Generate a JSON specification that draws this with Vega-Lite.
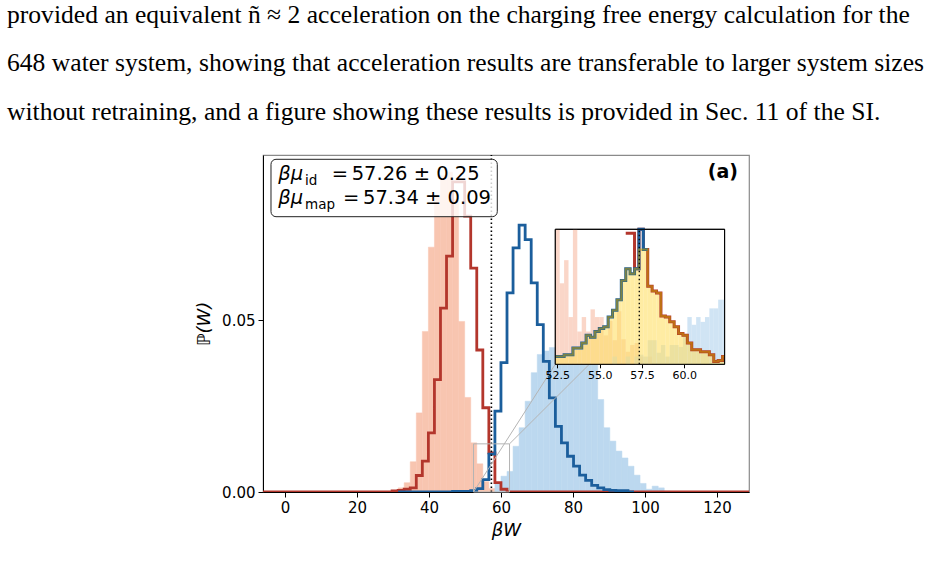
{
"$schema": "https://vega.github.io/schema/vega-lite/v6.json",
"width": 486, "height": 337,
"autosize": {"type": "none"},
"padding": {"left": 263, "top": 155, "right": 198, "bottom": 79},
"background": "white",
"config": {
  "view": {"stroke": "#8a8a8a", "strokeWidth": 1.2},
  "font": "DejaVu Sans",
  "axis": {"labelFont": "DejaVu Sans", "titleFont": "DejaVu Sans", "labelColor": "black", "titleColor": "black", "tickColor": "black", "domainColor": "black", "grid": false}
},
"title": {
  "text": ["provided an equivalent ñ ≈ 2 acceleration on the charging free energy calculation for the", "648 water system, showing that acceleration results are transferable to larger system sizes", "without retraining, and a figure showing these results is provided in Sec. 11 of the SI."],
  "anchor": "start", "frame": "group", "dx": -256, "offset": 29,
  "font": "Liberation Serif", "fontSize": 25.6, "fontWeight": "normal", "lineHeight": 48.5, "color": "black"
},
"datasets": {
  "one": [{}],
  "salmon": [
    {"x0": 29.76, "x1": 31.44, "p": 0.0004}, {"x0": 31.44, "x1": 33.12, "p": 0.0012}, {"x0": 33.12, "x1": 34.80, "p": 0.0027},
    {"x0": 34.80, "x1": 36.48, "p": 0.0088}, {"x0": 36.48, "x1": 38.16, "p": 0.023}, {"x0": 38.16, "x1": 39.84, "p": 0.0467},
    {"x0": 39.84, "x1": 41.52, "p": 0.0712}, {"x0": 41.52, "x1": 43.20, "p": 0.086}, {"x0": 43.20, "x1": 44.88, "p": 0.092},
    {"x0": 44.88, "x1": 46.56, "p": 0.093}, {"x0": 46.56, "x1": 48.24, "p": 0.085}, {"x0": 48.24, "x1": 49.92, "p": 0.0496},
    {"x0": 49.92, "x1": 51.60, "p": 0.0275}, {"x0": 51.60, "x1": 53.28, "p": 0.0143}, {"x0": 53.28, "x1": 54.96, "p": 0.0082},
    {"x0": 54.96, "x1": 56.64, "p": 0.003}, {"x0": 56.64, "x1": 58.32, "p": 0.001}
  ],
  "bluefill": [
    {"x0": 58.32, "x1": 60.00, "p": 0.0027}, {"x0": 60.00, "x1": 61.68, "p": 0.0046}, {"x0": 61.68, "x1": 63.36, "p": 0.006},
    {"x0": 63.36, "x1": 65.04, "p": 0.0133}, {"x0": 65.04, "x1": 66.72, "p": 0.0187}, {"x0": 66.72, "x1": 68.40, "p": 0.0264},
    {"x0": 68.40, "x1": 70.08, "p": 0.0347}, {"x0": 70.08, "x1": 71.76, "p": 0.040}, {"x0": 71.76, "x1": 73.44, "p": 0.041},
    {"x0": 73.44, "x1": 75.12, "p": 0.042}, {"x0": 75.12, "x1": 76.80, "p": 0.043}, {"x0": 76.80, "x1": 78.48, "p": 0.044},
    {"x0": 78.48, "x1": 80.16, "p": 0.044}, {"x0": 80.16, "x1": 81.84, "p": 0.043}, {"x0": 81.84, "x1": 83.52, "p": 0.042},
    {"x0": 83.52, "x1": 85.20, "p": 0.041}, {"x0": 85.20, "x1": 86.88, "p": 0.040}, {"x0": 86.88, "x1": 88.56, "p": 0.0269},
    {"x0": 88.56, "x1": 90.24, "p": 0.0187}, {"x0": 90.24, "x1": 91.92, "p": 0.0148}, {"x0": 91.92, "x1": 93.60, "p": 0.0119},
    {"x0": 93.60, "x1": 95.28, "p": 0.0099}, {"x0": 95.28, "x1": 96.96, "p": 0.0075}, {"x0": 96.96, "x1": 98.64, "p": 0.0049},
    {"x0": 98.64, "x1": 100.32, "p": 0.0025}, {"x0": 100.32, "x1": 102.00, "p": 0.0008}, {"x0": 102.00, "x1": 103.68, "p": 0.0017},
    {"x0": 103.68, "x1": 105.36, "p": 0.0012}, {"x0": 105.36, "x1": 107.04, "p": 0.0003}
  ],
  "redline": [
    {"x": -6.1, "p": 0}, {"x": 29.76, "p": 0.0003}, {"x": 31.44, "p": 0.0005}, {"x": 33.12, "p": 0.0008},
    {"x": 34.80, "p": 0.0012}, {"x": 36.48, "p": 0.0048}, {"x": 38.16, "p": 0.0090}, {"x": 39.84, "p": 0.0172},
    {"x": 41.52, "p": 0.0327}, {"x": 43.20, "p": 0.0535}, {"x": 44.88, "p": 0.0686}, {"x": 46.56, "p": 0.0902},
    {"x": 48.24, "p": 0.0902}, {"x": 49.92, "p": 0.0802}, {"x": 51.60, "p": 0.0651}, {"x": 53.28, "p": 0.0413},
    {"x": 54.96, "p": 0.0245}, {"x": 56.64, "p": 0.0114}, {"x": 58.32, "p": 0.0027}, {"x": 60.00, "p": 0.0008},
    {"x": 61.68, "p": 0}, {"x": 128.9, "p": 0}
  ],
  "blueline": [
    {"x": 31.44, "p": 0}, {"x": 46.56, "p": 0.0002}, {"x": 49.92, "p": 0.0002}, {"x": 51.60, "p": 0.0004},
    {"x": 53.28, "p": 0.0010}, {"x": 54.96, "p": 0.0036}, {"x": 56.64, "p": 0.0110}, {"x": 58.32, "p": 0.0235},
    {"x": 60.00, "p": 0.0376}, {"x": 61.68, "p": 0.0579}, {"x": 63.36, "p": 0.0710}, {"x": 65.04, "p": 0.0776},
    {"x": 66.72, "p": 0.0734}, {"x": 68.40, "p": 0.0608}, {"x": 70.08, "p": 0.0487}, {"x": 71.76, "p": 0.0380},
    {"x": 73.44, "p": 0.0274}, {"x": 75.12, "p": 0.0191}, {"x": 76.80, "p": 0.0143}, {"x": 78.48, "p": 0.0104},
    {"x": 80.16, "p": 0.0075}, {"x": 81.84, "p": 0.0049}, {"x": 83.52, "p": 0.0034}, {"x": 85.20, "p": 0.0019},
    {"x": 86.88, "p": 0.0012}, {"x": 88.56, "p": 0.0007}, {"x": 90.24, "p": 0.0005}, {"x": 91.92, "p": 0.0004},
    {"x": 93.60, "p": 0.0004}, {"x": 95.28, "p": 0}, {"x": 96.96, "p": 0}
  ],
  "ins_salmon": [
    {"x0": 52.38, "x1": 52.64, "p": 0.018}, {"x0": 52.64, "x1": 52.90, "p": 0.0084}, {"x0": 52.90, "x1": 53.16, "p": 0.0108},
    {"x0": 53.16, "x1": 53.42, "p": 0.0049}, {"x0": 53.42, "x1": 53.68, "p": 0.018}, {"x0": 53.68, "x1": 53.94, "p": 0.0034},
    {"x0": 53.94, "x1": 54.20, "p": 0.0049}, {"x0": 54.20, "x1": 54.46, "p": 0.0034}, {"x0": 54.46, "x1": 54.72, "p": 0.0057},
    {"x0": 54.72, "x1": 54.98, "p": 0.0049}, {"x0": 54.98, "x1": 55.24, "p": 0.0049}, {"x0": 55.24, "x1": 55.50, "p": 0.0030},
    {"x0": 55.50, "x1": 55.76, "p": 0.0045}, {"x0": 55.76, "x1": 56.02, "p": 0.0025}, {"x0": 56.02, "x1": 56.28, "p": 0.0055},
    {"x0": 56.28, "x1": 56.54, "p": 0.0026}, {"x0": 56.54, "x1": 56.80, "p": 0.0013}, {"x0": 56.80, "x1": 57.06, "p": 0.0020},
    {"x0": 57.06, "x1": 57.32, "p": 0.0022}, {"x0": 57.32, "x1": 57.58, "p": 0.0008}, {"x0": 57.84, "x1": 58.10, "p": 0.0008}
  ],
  "ins_blue": [
    {"x0": 55.76, "x1": 56.02, "p": 0.0008}, {"x0": 56.54, "x1": 56.80, "p": 0.0008}, {"x0": 57.06, "x1": 57.32, "p": 0.0008},
    {"x0": 57.32, "x1": 57.58, "p": 0.0010}, {"x0": 57.58, "x1": 57.84, "p": 0.0008}, {"x0": 57.84, "x1": 58.10, "p": 0.0025},
    {"x0": 58.10, "x1": 58.36, "p": 0.0025}, {"x0": 58.36, "x1": 58.62, "p": 0.0012}, {"x0": 58.62, "x1": 58.88, "p": 0.0020},
    {"x0": 58.88, "x1": 59.14, "p": 0.0008}, {"x0": 59.14, "x1": 59.40, "p": 0.0020}, {"x0": 59.40, "x1": 59.66, "p": 0.0020},
    {"x0": 59.66, "x1": 59.92, "p": 0.0018}, {"x0": 59.92, "x1": 60.18, "p": 0.0030}, {"x0": 60.18, "x1": 60.44, "p": 0.0049},
    {"x0": 60.44, "x1": 60.70, "p": 0.0041}, {"x0": 60.70, "x1": 60.96, "p": 0.0049}, {"x0": 60.96, "x1": 61.22, "p": 0.0044},
    {"x0": 61.22, "x1": 61.48, "p": 0.0049}, {"x0": 61.48, "x1": 61.74, "p": 0.0058}, {"x0": 61.74, "x1": 62.00, "p": 0.0058},
    {"x0": 62.00, "x1": 62.26, "p": 0.0067}, {"x0": 62.26, "x1": 62.52, "p": 0.0067}
  ],
  "ins_yellow": [
    {"x0": 52.38, "x1": 52.64, "p": 0.0008}, {"x0": 52.64, "x1": 52.90, "p": 0.0008}, {"x0": 52.90, "x1": 53.16, "p": 0.0010},
    {"x0": 53.16, "x1": 53.42, "p": 0.0010}, {"x0": 53.42, "x1": 53.68, "p": 0.0017}, {"x0": 53.68, "x1": 53.94, "p": 0.0017},
    {"x0": 53.94, "x1": 54.20, "p": 0.0022}, {"x0": 54.20, "x1": 54.46, "p": 0.0030}, {"x0": 54.46, "x1": 54.72, "p": 0.0028},
    {"x0": 54.72, "x1": 54.98, "p": 0.0034}, {"x0": 54.98, "x1": 55.24, "p": 0.0037}, {"x0": 55.24, "x1": 55.50, "p": 0.0039},
    {"x0": 55.50, "x1": 55.76, "p": 0.0049}, {"x0": 55.76, "x1": 56.02, "p": 0.0056}, {"x0": 56.02, "x1": 56.28, "p": 0.0067},
    {"x0": 56.28, "x1": 56.54, "p": 0.0087}, {"x0": 56.54, "x1": 56.80, "p": 0.0099}, {"x0": 56.80, "x1": 57.06, "p": 0.0094},
    {"x0": 57.06, "x1": 57.32, "p": 0.0099}, {"x0": 57.32, "x1": 57.58, "p": 0.0119}, {"x0": 57.58, "x1": 57.84, "p": 0.0119},
    {"x0": 57.84, "x1": 58.10, "p": 0.0081}, {"x0": 58.10, "x1": 58.36, "p": 0.0076}, {"x0": 58.36, "x1": 58.62, "p": 0.0074},
    {"x0": 58.62, "x1": 58.88, "p": 0.0050}, {"x0": 58.88, "x1": 59.14, "p": 0.0049}, {"x0": 59.14, "x1": 59.40, "p": 0.0044},
    {"x0": 59.40, "x1": 59.66, "p": 0.0039}, {"x0": 59.66, "x1": 59.92, "p": 0.0032}, {"x0": 59.92, "x1": 60.18, "p": 0.0030},
    {"x0": 60.18, "x1": 60.44, "p": 0.0022}, {"x0": 60.44, "x1": 60.70, "p": 0.0015}, {"x0": 60.70, "x1": 60.96, "p": 0.0015},
    {"x0": 60.96, "x1": 61.22, "p": 0.0013}, {"x0": 61.22, "x1": 61.48, "p": 0.0013}, {"x0": 61.48, "x1": 61.74, "p": 0.0010},
    {"x0": 61.74, "x1": 62.00, "p": 0.0003}, {"x0": 62.00, "x1": 62.26, "p": 0.0004}, {"x0": 62.26, "x1": 62.52, "p": 0.0008}
  ],
  "ins_overlap": [
    {"x": 52.38, "p": 0.0008}, {"x": 52.64, "p": 0.0008}, {"x": 52.90, "p": 0.0010}, {"x": 53.16, "p": 0.0010},
    {"x": 53.42, "p": 0.0017}, {"x": 53.68, "p": 0.0017}, {"x": 53.94, "p": 0.0022}, {"x": 54.20, "p": 0.0030},
    {"x": 54.46, "p": 0.0028}, {"x": 54.72, "p": 0.0034}, {"x": 54.98, "p": 0.0037}, {"x": 55.24, "p": 0.0039},
    {"x": 55.50, "p": 0.0049}, {"x": 55.76, "p": 0.0056}, {"x": 56.02, "p": 0.0067}, {"x": 56.28, "p": 0.0087},
    {"x": 56.54, "p": 0.0099}, {"x": 56.80, "p": 0.0094}, {"x": 57.06, "p": 0.0099}, {"x": 57.32, "p": 0.0119},
    {"x": 57.58, "p": 0.0119}, {"x": 57.84, "p": 0.0081}, {"x": 58.10, "p": 0.0076}, {"x": 58.36, "p": 0.0074},
    {"x": 58.62, "p": 0.0050}, {"x": 58.88, "p": 0.0049}, {"x": 59.14, "p": 0.0044}, {"x": 59.40, "p": 0.0039},
    {"x": 59.66, "p": 0.0032}, {"x": 59.92, "p": 0.0030}, {"x": 60.18, "p": 0.0022}, {"x": 60.44, "p": 0.0015},
    {"x": 60.70, "p": 0.0015}, {"x": 60.96, "p": 0.0013}, {"x": 61.22, "p": 0.0013}, {"x": 61.48, "p": 0.0010},
    {"x": 61.74, "p": 0.0003}, {"x": 62.00, "p": 0.0004}, {"x": 62.26, "p": 0.0008}, {"x": 62.52, "p": 0.0008}
  ],
  "ins_blueline": [
    {"x": 52.38, "p": 0.0008}, {"x": 52.64, "p": 0.0008}, {"x": 52.90, "p": 0.0010}, {"x": 53.16, "p": 0.0010},
    {"x": 53.42, "p": 0.0017}, {"x": 53.68, "p": 0.0017}, {"x": 53.94, "p": 0.0022}, {"x": 54.20, "p": 0.0030},
    {"x": 54.46, "p": 0.0028}, {"x": 54.72, "p": 0.0034}, {"x": 54.98, "p": 0.0037}, {"x": 55.24, "p": 0.0039},
    {"x": 55.50, "p": 0.0049}, {"x": 55.76, "p": 0.0056}, {"x": 56.02, "p": 0.0067}, {"x": 56.28, "p": 0.0087},
    {"x": 56.54, "p": 0.0099}, {"x": 56.80, "p": 0.0094}, {"x": 57.06, "p": 0.0099}, {"x": 57.32, "p": 0.014},
    {"x": 57.58, "p": 0.0119}, {"x": 57.84, "p": 0.0119}
  ],
  "ins_redline": [
    {"x": 56.54, "p": 0.0136}, {"x": 56.80, "p": 0.0136}, {"x": 57.06, "p": 0.0099}, {"x": 57.32, "p": 0.014},
    {"x": 57.58, "p": 0.0119}, {"x": 57.84, "p": 0.0081}, {"x": 58.10, "p": 0.0076}, {"x": 58.36, "p": 0.0074},
    {"x": 58.62, "p": 0.0050}, {"x": 58.88, "p": 0.0049}, {"x": 59.14, "p": 0.0044}, {"x": 59.40, "p": 0.0039},
    {"x": 59.66, "p": 0.0032}, {"x": 59.92, "p": 0.0030}, {"x": 60.18, "p": 0.0022}, {"x": 60.44, "p": 0.0015},
    {"x": 60.70, "p": 0.0015}, {"x": 60.96, "p": 0.0013}, {"x": 61.22, "p": 0.0013}, {"x": 61.48, "p": 0.0010},
    {"x": 61.74, "p": 0.0003}, {"x": 62.00, "p": 0.0004}, {"x": 62.26, "p": 0.0008}, {"x": 62.52, "p": 0.0008}
  ]
},
"layer": [
  {
    "layer": [
      {"data": {"name": "salmon"}, "mark": {"type": "rect", "color": "#f8c5b0", "stroke": "#f8c5b0", "strokeWidth": 0.5, "clip": true},
       "encoding": {
         "x": {"field": "x0", "type": "quantitative", "scale": {"domain": [-6.1, 128.9], "nice": false, "zero": false},
               "axis": {"title": "βW", "values": [0, 20, 40, 60, 80, 100, 120], "labelFontSize": 15, "titleFontSize": 18, "titleFontStyle": "italic", "titleFontWeight": "normal", "tickSize": 5, "labelPadding": 3, "titlePadding": 6}},
         "x2": {"field": "x1"},
         "y": {"field": "p", "type": "quantitative", "scale": {"domain": [0, 0.098], "nice": false, "zero": false},
               "axis": {"title": "ℙ(W)", "values": [0, 0.05], "format": ".2f", "labelFontSize": 15, "titleFontSize": 18, "titleFontStyle": "italic", "titleFontWeight": "normal", "tickSize": 5, "labelPadding": 3, "titlePadding": 8}},
         "y2": {"datum": 0}
       }},
      {"data": {"name": "bluefill"}, "mark": {"type": "rect", "color": "#bcd8ef", "stroke": "#bcd8ef", "strokeWidth": 0.5, "clip": true},
       "encoding": {"x": {"field": "x0", "type": "quantitative"}, "x2": {"field": "x1"}, "y": {"field": "p", "type": "quantitative"}, "y2": {"datum": 0}}},
      {"data": {"name": "redline"}, "mark": {"type": "line", "interpolate": "step-after", "color": "#b3362c", "strokeWidth": 2.8, "clip": true},
       "encoding": {"x": {"field": "x", "type": "quantitative"}, "y": {"field": "p", "type": "quantitative"}}},
      {"data": {"name": "blueline"}, "mark": {"type": "line", "interpolate": "step-after", "color": "#1b5e9c", "strokeWidth": 2.8, "clip": true},
       "encoding": {"x": {"field": "x", "type": "quantitative"}, "y": {"field": "p", "type": "quantitative"}}},
      {"data": {"name": "one"}, "mark": {"type": "rule", "color": "black", "strokeWidth": 1.6, "strokeDash": [1.5, 2.5]},
       "encoding": {"x": {"datum": 57.34}, "y": {"datum": 0}, "y2": {"datum": 0.098}}},
      {"data": {"name": "one"}, "mark": {"type": "rect", "fill": "transparent", "stroke": "#b4b4b4", "strokeWidth": 1},
       "encoding": {"x": {"datum": 52.38}, "x2": {"datum": 62.38}, "y": {"datum": 0}, "y2": {"datum": 0.014}}},
      {"data": {"name": "one"}, "mark": {"type": "rule", "color": "#b4b4b4", "strokeWidth": 1},
       "encoding": {"x": {"datum": 52.38}, "y": {"datum": 0}, "x2": {"datum": 75.09}, "y2": {"datum": 0.03714}}},
      {"data": {"name": "one"}, "mark": {"type": "rule", "color": "#b4b4b4", "strokeWidth": 1},
       "encoding": {"x": {"datum": 62.38}, "y": {"datum": 0.014}, "x2": {"datum": 122.12}, "y2": {"datum": 0.07639}}},
      {"data": {"name": "one"}, "mark": {"type": "rect", "fill": "white", "fillOpacity": 0.8, "stroke": "#222", "strokeWidth": 1, "cornerRadius": 5},
       "encoding": {"x": {"datum": -3.88}, "x2": {"datum": 58.98}, "y": {"datum": 0.09675}, "y2": {"datum": 0.08006}}},
      {"data": {"name": "one"}, "mark": {"type": "text", "text": "βμ", "fontSize": 19.5, "fontStyle": "italic", "align": "left", "baseline": "alphabetic", "color": "black"},
       "encoding": {"x": {"datum": -1.85}, "y": {"datum": 0.09073}}},
      {"data": {"name": "one"}, "mark": {"type": "text", "text": "id", "fontSize": 13.5, "align": "left", "baseline": "alphabetic", "color": "black"},
       "encoding": {"x": {"datum": 5.57}, "y": {"datum": 0.08942}}},
      {"data": {"name": "one"}, "mark": {"type": "text", "text": "=", "fontSize": 19.5, "align": "left", "baseline": "alphabetic", "color": "black"},
       "encoding": {"x": {"datum": 12.98}, "y": {"datum": 0.09073}}},
      {"data": {"name": "one"}, "mark": {"type": "text", "text": "57.26 ± 0.25", "fontSize": 19.5, "align": "left", "baseline": "alphabetic", "color": "black"},
       "encoding": {"x": {"datum": 18.54}, "y": {"datum": 0.09073}}},
      {"data": {"name": "one"}, "mark": {"type": "text", "text": "βμ", "fontSize": 19.5, "fontStyle": "italic", "align": "left", "baseline": "alphabetic", "color": "black"},
       "encoding": {"x": {"datum": -1.85}, "y": {"datum": 0.08375}}},
      {"data": {"name": "one"}, "mark": {"type": "text", "text": "map", "fontSize": 13.5, "align": "left", "baseline": "alphabetic", "color": "black"},
       "encoding": {"x": {"datum": 5.57}, "y": {"datum": 0.08244}}},
      {"data": {"name": "one"}, "mark": {"type": "text", "text": "=", "fontSize": 19.5, "align": "left", "baseline": "alphabetic", "color": "black"},
       "encoding": {"x": {"datum": 16.12}, "y": {"datum": 0.08375}}},
      {"data": {"name": "one"}, "mark": {"type": "text", "text": "57.34 ± 0.09", "fontSize": 19.5, "align": "left", "baseline": "alphabetic", "color": "black"},
       "encoding": {"x": {"datum": 21.68}, "y": {"datum": 0.08375}}},
      {"data": {"name": "one"}, "mark": {"type": "text", "text": "(a)", "fontSize": 19, "fontWeight": "bold", "align": "right", "baseline": "alphabetic", "color": "black"},
       "encoding": {"x": {"datum": 125.84}, "y": {"datum": 0.0913}}}
    ]
  },
  {
    "layer": [
      {"data": {"name": "one"}, "mark": {"type": "rect", "fill": "white", "stroke": "black", "strokeWidth": 1},
       "encoding": {
         "x": {"datum": 52.38, "scale": {"domain": [52.38, 62.38], "range": [292.3, 461.6], "clamp": true, "nice": false, "zero": false},
               "axis": {"title": null, "orient": "bottom", "offset": -127.7, "values": [52.5, 55, 57.5, 60], "format": ".1f", "labelFontSize": 11, "tickSize": 3.5, "labelPadding": 2, "domain": false, "zindex": 1}},
         "x2": {"datum": 62.38},
         "y": {"datum": 0, "scale": {"domain": [0, 0.014], "range": [209.3, 74.3], "clamp": true, "nice": false, "zero": false}, "axis": null},
         "y2": {"datum": 0.014}
       }},
      {"data": {"name": "ins_salmon"}, "mark": {"type": "rect", "color": "#f8c5b0", "opacity": 0.7},
       "encoding": {"x": {"field": "x0", "type": "quantitative"}, "x2": {"field": "x1"}, "y": {"field": "p", "type": "quantitative", "axis": null}, "y2": {"datum": 0}}},
      {"data": {"name": "ins_blue"}, "mark": {"type": "rect", "color": "#bcd8ef", "opacity": 0.7},
       "encoding": {"x": {"field": "x0", "type": "quantitative"}, "x2": {"field": "x1"}, "y": {"field": "p", "type": "quantitative", "axis": null}, "y2": {"datum": 0}}},
      {"data": {"name": "ins_yellow"}, "mark": {"type": "rect", "color": "#ffe066", "opacity": 0.6},
       "encoding": {"x": {"field": "x0", "type": "quantitative"}, "x2": {"field": "x1"}, "y": {"field": "p", "type": "quantitative", "axis": null}, "y2": {"datum": 0}}},
      {"data": {"name": "ins_redline"}, "mark": {"type": "line", "interpolate": "step-after", "color": "#b3362c", "strokeWidth": 3},
       "encoding": {"x": {"field": "x", "type": "quantitative"}, "y": {"field": "p", "type": "quantitative", "axis": null}}},
      {"data": {"name": "ins_blueline"}, "mark": {"type": "line", "interpolate": "step-after", "color": "#1b5e9c", "strokeWidth": 3},
       "encoding": {"x": {"field": "x", "type": "quantitative"}, "y": {"field": "p", "type": "quantitative", "axis": null}}},
      {"data": {"name": "ins_overlap"}, "mark": {"type": "line", "interpolate": "step-after", "color": "#c8a000", "opacity": 0.55, "strokeWidth": 2},
       "encoding": {"x": {"field": "x", "type": "quantitative"}, "y": {"field": "p", "type": "quantitative", "axis": null}}},
      {"data": {"name": "one"}, "mark": {"type": "rule", "color": "black", "strokeWidth": 1.3, "strokeDash": [1.5, 2.5]},
       "encoding": {"x": {"datum": 57.34}, "y": {"datum": 0, "axis": null}, "y2": {"datum": 0.014}}},
      {"data": {"name": "one"}, "mark": {"type": "rect", "fill": "transparent", "stroke": "black", "strokeWidth": 1},
       "encoding": {"x": {"datum": 52.38}, "x2": {"datum": 62.38}, "y": {"datum": 0, "axis": null}, "y2": {"datum": 0.014}}}
    ]
  }
],
"resolve": {"scale": {"x": "independent", "y": "independent"}, "axis": {"x": "independent", "y": "independent"}}
}
